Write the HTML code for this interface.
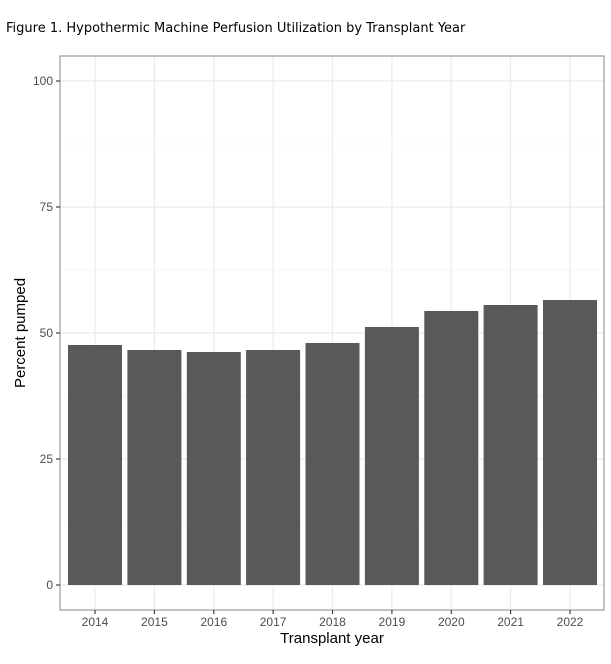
<!DOCTYPE html>
<html><head><style>body{margin:0;background:#fff} svg text{font-family:"Liberation Sans",Arial,sans-serif}</style></head><body>
<svg width="611" height="659" xmlns="http://www.w3.org/2000/svg">
<text x="6" y="32" fill="#000" style="font-size:13px;font-family:'DejaVu Sans',sans-serif">Figure 1. Hypothermic Machine Perfusion Utilization by Transplant Year</text>
<g stroke="#ebebeb" stroke-width="0.6">
<line x1="60" x2="604" y1="144" y2="144"/><line x1="60" x2="604" y1="270" y2="270"/><line x1="60" x2="604" y1="396" y2="396"/><line x1="60" x2="604" y1="522" y2="522"/>
</g>
<g stroke="#ebebeb" stroke-width="1.2">
<line x1="60" x2="604" y1="81" y2="81"/><line x1="60" x2="604" y1="207" y2="207"/><line x1="60" x2="604" y1="333" y2="333"/><line x1="60" x2="604" y1="459" y2="459"/><line x1="60" x2="604" y1="585" y2="585"/>
<line x1="95" x2="95" y1="56" y2="610"/><line x1="154.4" x2="154.4" y1="56" y2="610"/><line x1="213.8" x2="213.8" y1="56" y2="610"/><line x1="273.1" x2="273.1" y1="56" y2="610"/><line x1="332.5" x2="332.5" y1="56" y2="610"/><line x1="391.9" x2="391.9" y1="56" y2="610"/><line x1="451.3" x2="451.3" y1="56" y2="610"/><line x1="510.6" x2="510.6" y1="56" y2="610"/><line x1="570" x2="570" y1="56" y2="610"/>
</g>
<g fill="#595959">
<rect x="68" y="345" width="54" height="240"/>
<rect x="127.4" y="350" width="54" height="235"/>
<rect x="186.8" y="352" width="54" height="233"/>
<rect x="246.1" y="350" width="54" height="235"/>
<rect x="305.5" y="343" width="54" height="242"/>
<rect x="364.9" y="327" width="54" height="258"/>
<rect x="424.3" y="311" width="54" height="274"/>
<rect x="483.6" y="305" width="54" height="280"/>
<rect x="543" y="300" width="54" height="285"/>
</g>
<rect x="60" y="56" width="544" height="554" fill="none" stroke="#999" stroke-width="1.2"/>
<g stroke="#333" stroke-width="1.1">
<line x1="56" x2="60" y1="81" y2="81"/><line x1="56" x2="60" y1="207" y2="207"/><line x1="56" x2="60" y1="333" y2="333"/><line x1="56" x2="60" y1="459" y2="459"/><line x1="56" x2="60" y1="585" y2="585"/>
<line x1="95" x2="95" y1="610" y2="614"/><line x1="154.4" x2="154.4" y1="610" y2="614"/><line x1="213.8" x2="213.8" y1="610" y2="614"/><line x1="273.1" x2="273.1" y1="610" y2="614"/><line x1="332.5" x2="332.5" y1="610" y2="614"/><line x1="391.9" x2="391.9" y1="610" y2="614"/><line x1="451.3" x2="451.3" y1="610" y2="614"/><line x1="510.6" x2="510.6" y1="610" y2="614"/><line x1="570" x2="570" y1="610" y2="614"/>
</g>
<g style="font-size:12px" fill="#4d4d4d" text-anchor="end">
<text x="53" y="85">100</text><text x="53" y="211">75</text><text x="53" y="337">50</text><text x="53" y="463">25</text><text x="53" y="589">0</text>
</g>
<g style="font-size:12px" fill="#4d4d4d" text-anchor="middle">
<text x="95" y="626">2014</text><text x="154.4" y="626">2015</text><text x="213.8" y="626">2016</text><text x="273.1" y="626">2017</text><text x="332.5" y="626">2018</text><text x="391.9" y="626">2019</text><text x="451.3" y="626">2020</text><text x="510.6" y="626">2021</text><text x="570" y="626">2022</text>
</g>
<text x="332" y="643" style="font-size:15px" text-anchor="middle" fill="#000">Transplant year</text>
<text transform="translate(25,333) rotate(-90)" style="font-size:15px" text-anchor="middle" fill="#000">Percent pumped</text>
</svg>
</body></html>
